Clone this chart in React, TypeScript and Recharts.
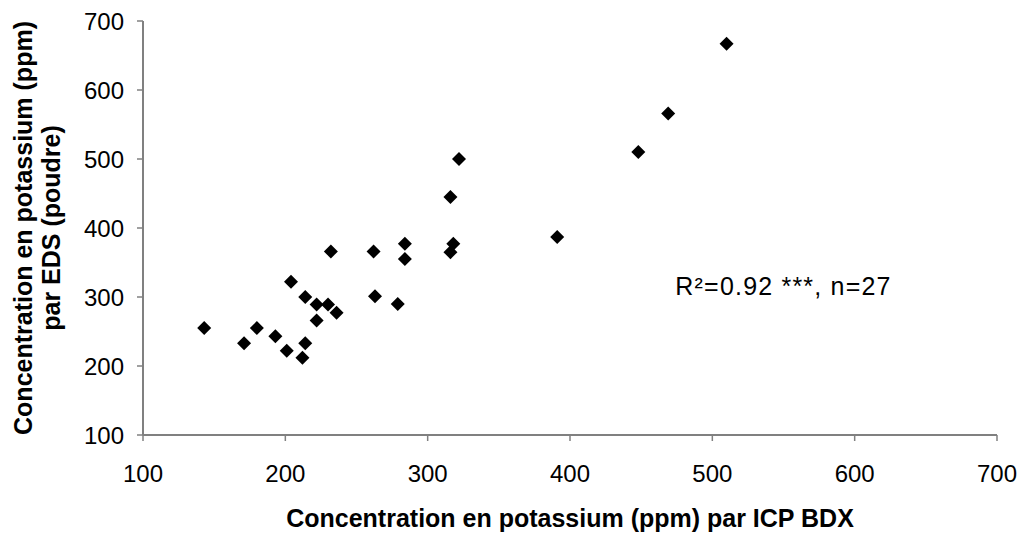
import React from "react";
import {
  ScatterChart,
  Scatter,
  XAxis,
  YAxis,
  ReferenceDot,
} from "recharts";

// potassium, ICP BDX (x) vs EDS powder (y), ppm
const icpBdx = [
  143, 171, 180, 193, 201, 212, 214, 204, 214, 222, 222, 230, 236, 232, 262,
  263, 279, 284, 284, 316, 322, 318, 316, 391, 448, 469, 510,
];
const edsPoudre = [
  255, 233, 255, 243, 222, 212, 233, 322, 300, 289, 266, 289, 277, 366, 366,
  301, 290, 377, 355, 445, 500, 377, 365, 387, 510, 566, 667,
];
const axisTicks = [100, 200, 300, 400, 500, 600, 700];
const statsNote = "R²=0.92 ***, n=27";
const xTitle = "Concentration en potassium (ppm) par ICP BDX";
const yTitleLines = ["Concentration en potassium (ppm)", "par EDS (poudre)"];

const points = icpBdx.map((x, i) => ({ x, y: edsPoudre[i] }));

const FONT = "'Liberation Sans', Arial, sans-serif";
const AXIS_GREY = "#808080";

function Diamond(props: any) {
  const { cx, cy } = props;
  const h = 7;
  return (
    <path
      d={`M${cx},${cy - h} L${cx + h},${cy} L${cx},${cy + h} L${cx - h},${cy} Z`}
      fill="#000"
    />
  );
}

function XTitle(props: any) {
  const { viewBox } = props;
  if (!viewBox) return null;
  return (
    <text
      x={viewBox.x + viewBox.width / 2}
      y={viewBox.y + 92}
      textAnchor="middle"
      fontSize={25}
      fontWeight="bold"
      fill="#000"
    >
      {xTitle}
    </text>
  );
}

function YTitle(props: any) {
  const { viewBox } = props;
  if (!viewBox) return null;
  const cy = viewBox.y + viewBox.height / 2;
  // two lines, rotated; baselines measured from the left edge
  const baselines = [32, 60];
  return (
    <g>
      {yTitleLines.map((line, i) => (
        <text
          key={i}
          transform={`translate(${viewBox.x + baselines[i]},${cy}) rotate(-90)`}
          textAnchor="middle"
          fontSize={25}
          fontWeight="bold"
          fill="#000"
        >
          {line}
        </text>
      ))}
    </g>
  );
}

function Note(props: any) {
  return (
    <text x={props.cx} y={props.cy} fontSize={25} letterSpacing={1.2} fill="#000">
      {statsNote}
    </text>
  );
}

export default function App() {
  return (
    <div style={{ position: "absolute", left: 0, top: 0, background: "#fff" }}>
      <ScatterChart
        width={1023}
        height={533}
        margin={{ top: 21, right: 26, bottom: 0, left: 0 }}
        style={{ fontFamily: FONT }}
      >
        <XAxis
          type="number"
          dataKey="x"
          domain={[100, 700]}
          ticks={axisTicks}
          height={98}
          tickSize={6}
          tickMargin={24}
          axisLine={{ stroke: AXIS_GREY, strokeWidth: 2 }}
          tickLine={{ stroke: AXIS_GREY, strokeWidth: 1.5 }}
          tick={{ fill: "#000", fontSize: 24 }}
          label={<XTitle />}
        />
        <YAxis
          type="number"
          dataKey="y"
          domain={[100, 700]}
          ticks={axisTicks}
          width={143}
          tickSize={6}
          tickMargin={13}
          axisLine={{ stroke: AXIS_GREY, strokeWidth: 2 }}
          tickLine={{ stroke: AXIS_GREY, strokeWidth: 1.5 }}
          tick={{ fill: "#000", fontSize: 24 }}
          label={<YTitle />}
        />
        <Scatter
          data={points}
          shape={<Diamond />}
          isAnimationActive={false}
        />
        <ReferenceDot x={474} y={303} r={0} shape={<Note />} />
      </ScatterChart>
    </div>
  );
}
